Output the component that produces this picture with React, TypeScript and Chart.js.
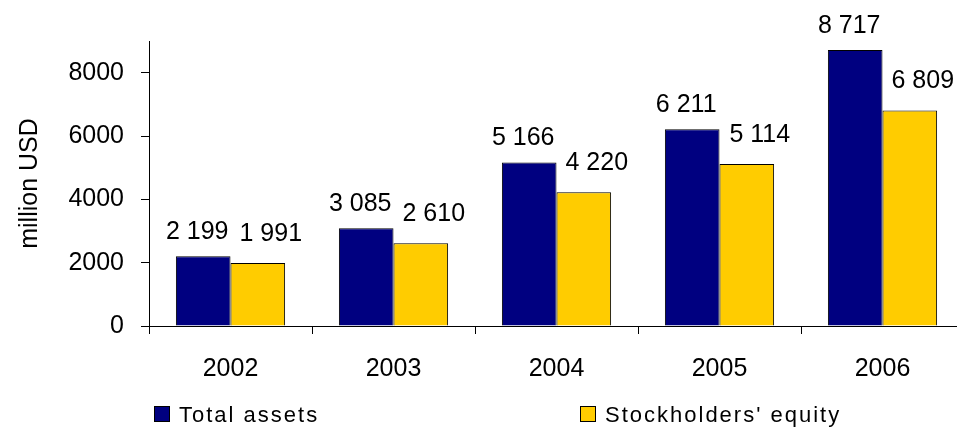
import React, { useEffect, useRef } from "react";
import { Chart, registerables } from "chart.js";

Chart.register(...registerables);

const years = ["2002", "2003", "2004", "2005", "2006"];
const totalAssets = [2199, 3085, 5166, 6211, 8717];
const stockholdersEquity = [1991, 2610, 4220, 5114, 6809];
const yTickValues = [0, 2000, 4000, 6000, 8000];
const seriesNames = ["Total assets", "Stockholders' equity"];
const seriesColors = ["#000080", "#FFCC00"];
const yAxisTitle = "million USD";

const FONT = "'Liberation Sans', Arial, Helvetica, sans-serif";

const fmt = (v: number) => String(v).replace(/\B(?=(\d{3})+(?!\d))/g, " ");

const barLabelPlugin = {
  id: "barLabels",
  afterDatasetsDraw(chart: any) {
    const ctx = chart.ctx;
    ctx.save();
    ctx.font = `25px ${FONT}`;
    ctx.fillStyle = "#000";
    ctx.textAlign = "center";
    ctx.textBaseline = "alphabetic";
    const dx = [-6, 13];
    const gap = [17, 22];
    chart.data.datasets.forEach((ds: any, i: number) => {
      const meta = chart.getDatasetMeta(i);
      meta.data.forEach((bar: any, j: number) => {
        ctx.fillText(fmt(ds.data[j]), bar.x + dx[i], bar.y - gap[i]);
      });
    });
    ctx.restore();
  },
};

const legendPlugin = {
  id: "customLegend",
  afterDraw(chart: any) {
    const ctx = chart.ctx;
    ctx.save();
    ctx.font = `22px ${FONT}`;
    try {
      (ctx as any).letterSpacing = "2px";
    } catch (e) {}
    ctx.textAlign = "left";
    ctx.textBaseline = "alphabetic";
    const xs = [154, 580];
    const boxTop = 406;
    const box = 16;
    chart.data.datasets.forEach((ds: any, i: number) => {
      const x = xs[i];
      ctx.fillStyle = ds.backgroundColor;
      ctx.fillRect(x, boxTop, box, box);
      ctx.strokeStyle = "#000";
      ctx.lineWidth = 1;
      ctx.strokeRect(x + 0.5, boxTop + 0.5, box - 1, box - 1);
      ctx.fillStyle = "#000";
      ctx.fillText(ds.label, x + 25, 422);
    });
    ctx.restore();
  },
};

export default function App() {
  const ref = useRef<HTMLCanvasElement>(null);

  useEffect(() => {
    if (!ref.current) return;
    const chart = new Chart(ref.current, {
      type: "bar",
      data: {
        labels: years,
        datasets: [
          {
            label: seriesNames[0],
            data: totalAssets,
            backgroundColor: seriesColors[0],
            borderColor: "#000",
            borderWidth: 1,
            categoryPercentage: 0.67,
            barPercentage: 1.0,
          },
          {
            label: seriesNames[1],
            data: stockholdersEquity,
            backgroundColor: seriesColors[1],
            borderColor: "#000",
            borderWidth: 1,
            categoryPercentage: 0.67,
            barPercentage: 1.0,
          },
        ],
      },
      options: {
        responsive: false,
        animation: false,
        devicePixelRatio: 1,
        layout: { padding: { top: 41, right: 36, bottom: 50, left: 0 } },
        plugins: {
          legend: { display: false },
          tooltip: { enabled: false },
        },
        scales: {
          x: {
            afterFit: (axis: any) => {
              axis.height = 53;
            },
            border: { color: "#000", width: 1 },
            grid: { drawOnChartArea: false, color: "#000", tickLength: 8, offset: true },
            ticks: { font: { family: FONT, size: 25 }, color: "#000", padding: 20 },
          },
          y: {
            min: 0,
            max: 9000,
            afterBuildTicks: (axis: any) => {
              axis.ticks = yTickValues.map((v) => ({ value: v }));
            },
            afterFit: (axis: any) => {
              axis.width = 149;
            },
            border: { color: "#000", width: 1 },
            grid: { drawOnChartArea: false, color: "#000", tickLength: 8 },
            ticks: {
              font: { family: FONT, size: 25 },
              color: "#000",
              padding: 17,
              callback: (v: any) => String(v),
            },
            title: {
              display: true,
              text: yAxisTitle,
              font: { family: FONT, size: 25 },
              color: "#000",
              padding: { top: 15, bottom: 0 },
            },
          },
        },
      },
      plugins: [barLabelPlugin, legendPlugin],
    });
    return () => chart.destroy();
  }, []);

  return (
    <div
      style={{
        position: "fixed",
        left: 0,
        top: 0,
        width: 957,
        height: 429,
        overflow: "hidden",
        background: "#fff",
      }}
    >
      <canvas ref={ref} width={1000} height={429} style={{ display: "block" }} />
    </div>
  );
}
